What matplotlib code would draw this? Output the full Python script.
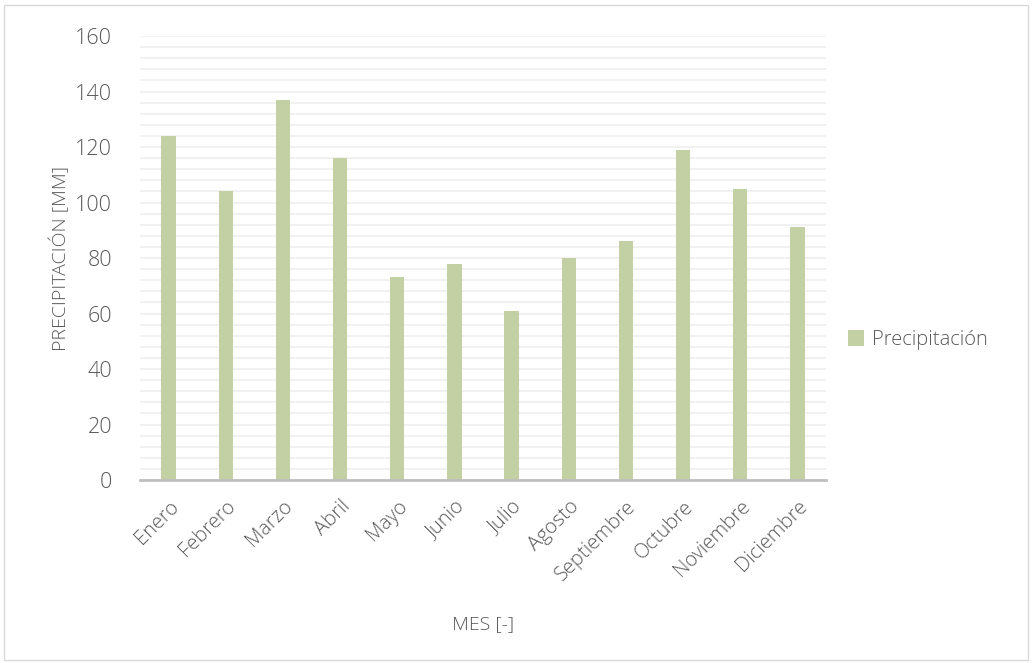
import matplotlib
matplotlib.use("Agg")
import matplotlib.pyplot as plt
import numpy as np
from matplotlib.ticker import MultipleLocator

months = ["Enero", "Febrero", "Marzo", "Abril", "Mayo", "Junio", "Julio",
          "Agosto", "Septiembre", "Octubre", "Noviembre", "Diciembre"]
precip = [124, 104, 137, 116, 73, 78, 61, 80, 86, 119, 105, 91]

plt.rcParams['font.family'] = ['Open Sans', 'DejaVu Sans']
plt.rcParams['font.weight'] = 'light'
plt.rcParams['axes.labelweight'] = 'light'
txt = '#595959'

fig = plt.figure(figsize=(10.32, 6.63), dpi=100)
ax = fig.add_axes([0.1357, 0.276, 0.6647, 0.6697])

x = np.arange(len(months))
ax.bar(x, precip, width=0.25, color='#c3d0a3', label='Precipitación', zorder=3)

ax.set_xlim(-0.5, len(months) - 0.5)
ax.set_ylim(0, 160)
ax.yaxis.set_major_locator(MultipleLocator(20))
ax.yaxis.set_minor_locator(MultipleLocator(4))
ax.grid(which='both', axis='y', color='#efefef', linewidth=1.2, zorder=0)
ax.set_axisbelow(True)

for s in ['top', 'right', 'left']:
    ax.spines[s].set_visible(False)
ax.spines['bottom'].set_color('#bfbfbf')
ax.spines['bottom'].set_linewidth(2)
ax.spines['bottom'].set_zorder(4)

ax.tick_params(axis='both', which='both', length=0, colors=txt, labelsize=15.5)
ax.tick_params(axis='y', pad=20)
ax.set_xticks(x)
ax.set_xticklabels(months, rotation=45, ha='right', rotation_mode='anchor', fontsize=14.5)
ax.tick_params(axis='x', pad=12)

ax.set_ylabel('PRECIPITACIÓN [MM]', color=txt, fontsize=14, labelpad=4, fontweight='light')
ax.set_xlabel('MES [-]', color=txt, fontsize=14, labelpad=22, fontweight='light')

leg = ax.legend(loc='center left', bbox_to_anchor=(1.005, 0.315), frameon=False,
                fontsize=14.5, handlelength=0.8, handleheight=0.8, handletextpad=0.4)
for t in leg.get_texts():
    t.set_color(txt)

fig.patches.append(plt.Rectangle((0.004, 0.004), 0.992, 0.988, transform=fig.transFigure,
                                 fill=False, edgecolor='#d9d9d9', linewidth=1))

fig.savefig('out.png', dpi=100)
